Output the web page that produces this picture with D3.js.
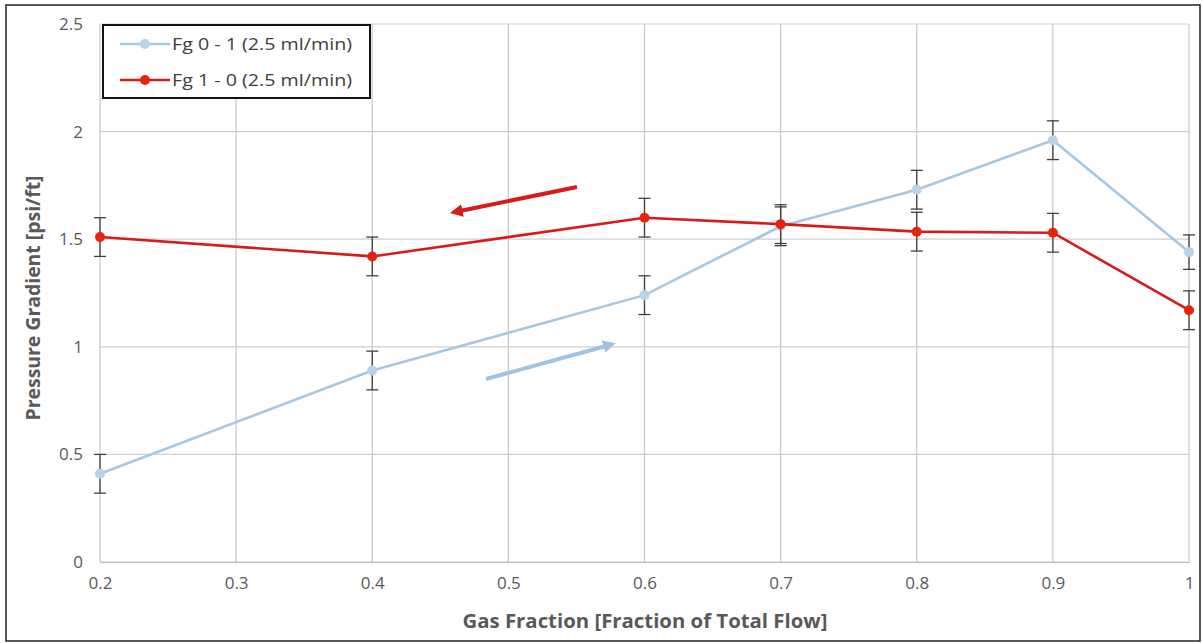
<!DOCTYPE html>
<html><head><meta charset="utf-8">
<script src="https://cdn.jsdelivr.net/npm/d3@7"></script>
<style>body{margin:0;background:#fff;}svg{display:block;font-family:"Open Sans","Noto Sans",sans-serif;}</style>
</head><body>
<svg id="c" width="1203" height="643"></svg>
<script>
const xValues = [0.2, 0.4, 0.6, 0.7, 0.8, 0.9, 1.0];
const seriesNames = ["Fg 0 - 1 (2.5 ml/min)", "Fg 1 - 0 (2.5 ml/min)"];
const fg01 = [0.41, 0.89, 1.24, 1.56, 1.73, 1.96, 1.44];
const fg01Err = [0.09, 0.09, 0.09, 0.09, 0.09, 0.09, 0.08];
const fg10 = [1.51, 1.42, 1.60, 1.57, 1.535, 1.53, 1.17];
const fg10Err = [0.09, 0.09, 0.09, 0.09, 0.09, 0.09, 0.09];
const xTicks = [0.2, 0.3, 0.4, 0.5, 0.6, 0.7, 0.8, 0.9, 1];
const yTicks = [0, 0.5, 1, 1.5, 2, 2.5];
const colors = ["#a7c7e2", "#d91a1a"];
const markerColors = ["#b8d3ea", "#e8230c"];

const svg = d3.select("#c");
svg.append("rect").attr("x",6).attr("y",5).attr("width",1194).attr("height",636)
  .attr("fill","none").attr("stroke","#222").attr("stroke-width",1.5);

const L=100, R=1189, T=24, B=562;
const x = d3.scaleLinear().domain([0.2,1]).range([L,R]);
const y = d3.scaleLinear().domain([0,2.5]).range([B,T]);

// gridlines
svg.append("g").selectAll("line").data(yTicks).join("line")
  .attr("x1",L).attr("x2",R).attr("y1",d=>y(d)).attr("y2",d=>y(d))
  .attr("stroke","#d0d0d0").attr("stroke-width",1.2);
svg.append("g").selectAll("line").data(xTicks).join("line")
  .attr("x1",d=>x(d)).attr("x2",d=>x(d)).attr("y1",T).attr("y2",B)
  .attr("stroke","#c8c8c8").attr("stroke-width",1.2);

// axes
const xAxis = d3.axisBottom(x).tickValues(xTicks).tickSize(0).tickPadding(15).tickFormat(d=>String(+d.toFixed(1)));
const gx = svg.append("g").attr("transform",`translate(0,${B})`).call(xAxis);
gx.select(".domain").attr("stroke","#bdbdbd").attr("stroke-width",1.2);
gx.selectAll("text").attr("fill","#595959").attr("font-size",17).attr("font-family","'Open Sans',sans-serif");
const yAxis = d3.axisLeft(y).tickValues(yTicks).tickSize(0).tickPadding(17).tickFormat(d=>String(d));
const gy = svg.append("g").attr("transform",`translate(${L},0)`).call(yAxis);
gy.select(".domain").remove();
gy.selectAll("text").attr("fill","#595959").attr("font-size",17).attr("font-family","'Open Sans',sans-serif");

// axis titles
svg.append("text").attr("x",645).attr("y",628).attr("text-anchor","middle")
  .attr("font-weight","bold").attr("font-size",19).attr("fill","#595959")
  .attr("textLength",365).attr("lengthAdjust","spacingAndGlyphs")
  .text("Gas Fraction [Fraction of Total Flow]");
svg.append("text").attr("transform","translate(40,298) rotate(-90)").attr("text-anchor","middle")
  .attr("font-weight","bold").attr("font-size",19).attr("fill","#595959")
  .attr("textLength",245).attr("lengthAdjust","spacingAndGlyphs")
  .text("Pressure Gradient [psi/ft]");

const line = d3.line().x(d=>x(d[0])).y(d=>y(d[1]));
function drawSeries(vals, errs, i){
  const g = svg.append("g");
  const pts = xValues.map((xv,j)=>[xv, vals[j], errs[j]]);
  pts.forEach(p=>{
    const cx=x(p[0]);
    g.append("line").attr("x1",cx).attr("x2",cx).attr("y1",y(p[1]+p[2])).attr("y2",y(p[1]-p[2])).attr("stroke","#404040").attr("stroke-width",1.3);
    [p[1]+p[2],p[1]-p[2]].forEach(v=>g.append("line").attr("x1",cx-6).attr("x2",cx+6).attr("y1",y(v)).attr("y2",y(v)).attr("stroke","#404040").attr("stroke-width",1.3));
  });
  g.append("path").datum(pts).attr("d",line).attr("fill","none").attr("stroke",colors[i]).attr("stroke-width",2.6);
  g.selectAll("circle").data(pts).join("circle").attr("cx",d=>x(d[0])).attr("cy",d=>y(d[1])).attr("r",5)
    .attr("fill",markerColors[i]);
}
drawSeries(fg01, fg01Err, 0);
drawSeries(fg10, fg10Err, 1);

// arrows
const defs = svg.append("defs");
[["ar",colors[1]],["ab","#9fc3e3"]].forEach(([id,c])=>{
  defs.append("marker").attr("id",id).attr("viewBox","0 0 10 10").attr("refX",2).attr("refY",5)
    .attr("markerWidth",3.2).attr("markerHeight",3.2).attr("orient","auto")
    .append("path").attr("d","M0,0 L10,5 L0,10 z").attr("fill",c);
});
svg.append("line").attr("x1",577).attr("y1",187).attr("x2",460).attr("y2",211)
  .attr("stroke",colors[1]).attr("stroke-width",4).attr("marker-end","url(#ar)");
svg.append("line").attr("x1",486).attr("y1",379).attr("x2",606).attr("y2",346)
  .attr("stroke","#9fc3e3").attr("stroke-width",4).attr("marker-end","url(#ab)");

// legend
const lg = svg.append("g");
lg.append("rect").attr("x",103).attr("y",25).attr("width",267).attr("height",73)
  .attr("fill","#fff").attr("stroke","#111").attr("stroke-width",2);
seriesNames.forEach((n,i)=>{
  const ly = 44 + i*36;
  lg.append("line").attr("x1",120).attr("x2",170).attr("y1",ly).attr("y2",ly).attr("stroke",colors[i]).attr("stroke-width",2.6);
  lg.append("circle").attr("cx",145).attr("cy",ly).attr("r",5).attr("fill",markerColors[i]);
  lg.append("text").attr("x",172).attr("y",ly+6).attr("font-size",17).attr("fill","#404040")
    .attr("textLength",180).attr("lengthAdjust","spacingAndGlyphs").text(n);
});
</script>
</body></html>
